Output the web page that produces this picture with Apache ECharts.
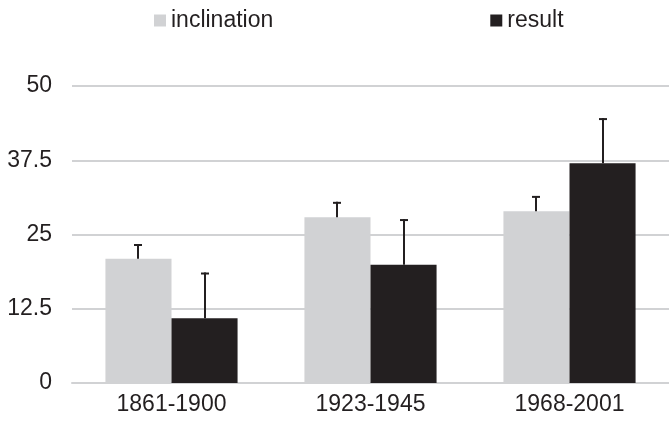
<!DOCTYPE html>
<html>
<head>
<meta charset="utf-8">
<script src="https://cdn.jsdelivr.net/npm/echarts@6/dist/echarts.min.js"></script>
<style>
html,body{margin:0;padding:0;background:#fff;overflow:hidden;}
#chart{width:669px;height:423px;}
</style>
</head>
<body>
<div id="chart"></div>
<script>
const categories = ['1861-1900', '1923-1945', '1968-2001'];
const inclination = [20.9, 27.9, 28.9];
const inclinationErr = [2.5, 2.6, 2.6];
const result = [10.9, 19.9, 37.0];
const resultErr = [7.7, 7.7, 7.6];
const yTicks = [0, 12.5, 25, 37.5, 50];

const FONT = "'Liberation Sans', Arial, sans-serif";
const TEXT = '#231f20';
const GAP = 0.336;

function errData(vals, errs, side) {
  return vals.map((v, i) => [i, v, v + errs[i], side]);
}

function renderErr(params, api) {
  const idx = api.value(0);
  const base = api.value(1);
  const top = api.value(2);
  const side = api.value(3);
  const band = api.size([1, 0])[0];
  const barW = band * (1 - GAP) / 2;
  const pBase = api.coord([idx, base]);
  const pTop = api.coord([idx, top]);
  const x = Math.round(pBase[0] + side * barW / 2);
  const style = { stroke: TEXT, lineWidth: 2 };
  return {
    type: 'group',
    children: [
      { type: 'line', shape: { x1: x, y1: pBase[1], x2: x, y2: pTop[1] }, style: style },
      { type: 'line', shape: { x1: x - 4, y1: pTop[1] + 1, x2: x + 4, y2: pTop[1] + 1 }, style: style }
    ]
  };
}

const chart = echarts.init(document.getElementById('chart'), null, { renderer: 'canvas' });
chart.setOption({
  animation: false,
  backgroundColor: '#ffffff',
  textStyle: { fontFamily: FONT },
  legend: {
    data: ['inclination', 'result'],
    left: 149,
    top: 4,
    itemWidth: 12,
    itemHeight: 12,
    itemGap: 217,
    icon: 'rect',
    textStyle: { fontFamily: FONT, fontSize: 23, color: TEXT, lineHeight: 23 }
  },
  grid: { left: 72, top: 86, width: 602, height: 297, containLabel: false },
  xAxis: {
    type: 'category',
    data: categories,
    axisLine: { lineStyle: { color: '#d1d2d4', width: 2 } },
    axisTick: { show: false },
    axisLabel: { fontFamily: FONT, fontSize: 23, color: TEXT, margin: 10 },
    splitLine: { show: false }
  },
  yAxis: {
    type: 'value',
    min: yTicks[0],
    max: yTicks[yTicks.length - 1],
    interval: yTicks[1] - yTicks[0],
    axisLine: { show: false },
    axisTick: { show: false },
    axisLabel: { fontFamily: FONT, fontSize: 23, color: TEXT, margin: 20 },
    splitLine: { lineStyle: { color: '#d1d2d4', width: 2 } }
  },
  series: [
    {
      name: 'inclination', type: 'bar', data: inclination,
      barGap: '0%', barCategoryGap: (GAP * 100) + '%',
      itemStyle: { color: '#d1d2d4' }
    },
    {
      name: 'result', type: 'bar', data: result,
      itemStyle: { color: '#231f20' }
    },
    {
      name: 'inclinationErr', type: 'custom', renderItem: renderErr,
      data: errData(inclination, inclinationErr, -1), z: 5, silent: true
    },
    {
      name: 'resultErr', type: 'custom', renderItem: renderErr,
      data: errData(result, resultErr, 1), z: 5, silent: true
    }
  ]
});
</script>
</body>
</html>
